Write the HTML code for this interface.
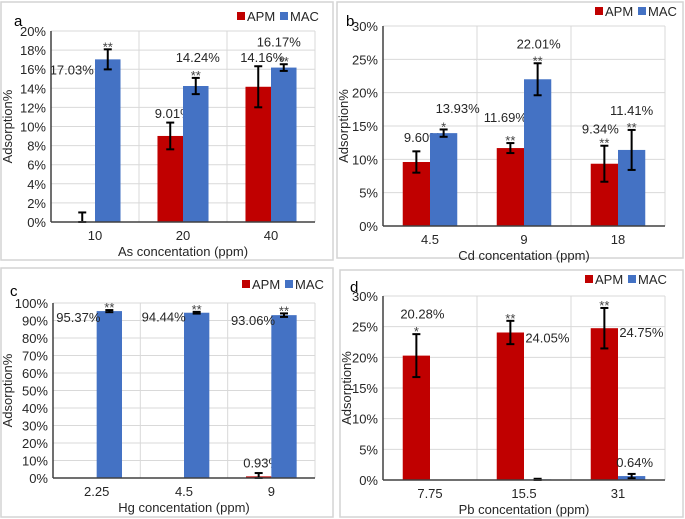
<!DOCTYPE html>
<html><head><meta charset="utf-8"><style>
body{margin:0;background:#fff;}
svg{display:block;font-family:"Liberation Sans",sans-serif;}
</style></head><body>
<svg id="chart" width="685" height="519" viewBox="0 0 685 519" xmlns="http://www.w3.org/2000/svg"></svg>
<script>
// Panel a (As)
const catsA=["10","20","40"];
const apmA=[0,9.01,14.16];
const macA=[17.03,14.24,16.17];
const apmErrA=[1,1.4,2.15];
const macErrA=[1.05,0.85,0.35];
const apmLblA=["","9.01%","14.16%"];
const macLblA=["17.03%","14.24%","16.17%"];
const apmSigA=["","",""];
const macSigA=["**","**","**"];
const ticksA=[0,2,4,6,8,10,12,14,16,18,20];
// Panel b (Cd)
const catsB=["4.5","9","18"];
const apmB=[9.60,11.69,9.34];
const macB=[13.93,22.01,11.41];
const apmErrB=[1.6,0.75,2.7];
const macErrB=[0.55,2.4,3];
const apmLblB=["9.60%","11.69%","9.34%"];
const macLblB=["13.93%","22.01%","11.41%"];
const apmSigB=["","**","**"];
const macSigB=["*","**","**"];
const ticksB=[0,5,10,15,20,25,30];
// Panel c (Hg)
const catsC=["2.25","4.5","9"];
const apmC=[0,0,0.93];
const macC=[95.37,94.44,93.06];
const apmErrC=[0,0,1.9];
const macErrC=[0.6,0.5,1];
const apmLblC=["","","0.93%"];
const macLblC=["95.37%","94.44%","93.06%"];
const apmSigC=["","",""];
const macSigC=["**","**","**"];
const ticksC=[0,10,20,30,40,50,60,70,80,90,100];
// Panel d (Pb)
const catsD=["7.75","15.5","31"];
const apmD=[20.28,24.05,24.75];
const macD=[0,0.1,0.64];
const apmErrD=[3.5,1.9,3.3];
const macErrD=[0,0.1,0.35];
const apmLblD=["20.28%","24.05%","24.75%"];
const macLblD=["","","0.64%"];
const apmSigD=["*","**","**"];
const macSigD=["","",""];
const ticksD=[0,5,10,15,20,25,30];

const NS="http://www.w3.org/2000/svg";
const svg=document.getElementById('chart');
function mk(tag,attrs,parent,text){const e=document.createElementNS(NS,tag);for(const k in attrs)e.setAttribute(k,attrs[k]);if(text!==undefined)e.textContent=text;(parent||svg).appendChild(e);return e;}

const panels=[
 {id:'a',box:[1,2,332,258],L:51,R:315,T:31,B:222,max:20,ticks:ticksA,cats:catsA,apm:apmA,mac:macA,ae:apmErrA,me:macErrA,al:apmLblA,ml:macLblA,as:apmSigA,ms:macSigA,
  aOff:[[0,0],[3,-18],[4,-25]],mOff:[[-36,15],[2,-24],[-5,-21]],xt:"As concentation (ppm)",legX:237,legY:12,letter:[14,26]},
 {id:'b',box:[337,2,346,256],L:383,R:665,T:26,B:226,max:30,ticks:ticksB,cats:catsB,apm:apmB,mac:macB,ae:apmErrB,me:macErrB,al:apmLblB,ml:macLblB,as:apmSigB,ms:macSigB,
  aOff:[[6,-20],[-5,-26],[-4,-30]],mOff:[[14,-20],[1,-31],[0,-35]],xt:"Cd concentation (ppm)",legX:595,legY:7,letter:[346,26]},
 {id:'c',box:[1,268,332,249],L:53,R:315,T:303,B:478,max:100,ticks:ticksC,cats:catsC,apm:apmC,mac:macC,ae:apmErrC,me:macErrC,al:apmLblC,ml:macLblC,as:apmSigC,ms:macSigC,
  aOff:[[0,0],[0,0],[3,-9]],mOff:[[-31,11],[-33,9],[-31,10]],xt:"Hg concentation (ppm)",legX:242,legY:280,letter:[10,296]},
 {id:'d',box:[340,270,343,247],L:383,R:665,T:296,B:480,max:30,ticks:ticksD,cats:catsD,apm:apmD,mac:macD,ae:apmErrD,me:macErrD,al:apmLblD,ml:macLblD,as:apmSigD,ms:macSigD,
  aOff:[[6,-37],[37,10],[37,9]],mOff:[[0,0],[0,0],[3,-9]],xt:"Pb concentation (ppm)",legX:585,legY:275,letter:[350,292]}
];

panels.forEach(p=>{
 const g=mk('g',{});
 
 
 const border=mk('rect',{x:p.box[0],y:p.box[1],width:p.box[2],height:p.box[3],fill:'#fff',stroke:'#d4d4d4','stroke-width':1.5},g);
 
 
 const y=v=>p.B-(v/p.max)*(p.B-p.T);
 const catW=(p.R-p.L)/p.cats.length;
 const cx=i=>p.L+catW*(i+0.5);
 const bw=catW*0.29;
 p.ticks.forEach(t=>{
  const ln=mk('line',{x1:p.L,x2:p.R,y1:y(t),y2:y(t),stroke:'#d9d9d9','stroke-width':1},g);
  
  
  const tl=mk('text',{x:p.L-5,y:y(t)+5,'text-anchor':'end','font-size':13,fill:'#262626'},g,t+'%');
  
  
 });
 for(let i=1;i<=p.cats.length;i++){
  const vl=mk('line',{x1:p.L+catW*i,x2:p.L+catW*i,y1:p.T,y2:p.B,stroke:'#d9d9d9','stroke-width':1},g);
  
  
 }
 p.cats.forEach((c,i)=>{
  const series=[['apm',p.apm[i],p.ae[i],p.al[i],p.as[i],p.aOff[i],'#c00000',cx(i)-bw/2],
                ['mac',p.mac[i],p.me[i],p.ml[i],p.ms[i],p.mOff[i],'#4472c4',cx(i)+bw/2]];
  series.forEach(s=>{
   const [nm,v,e,lbl,sig,off,col,bc]=s;
   const top=y(v);
   const r=mk('rect',{x:bc-bw/2,y:top,width:bw,height:Math.max(0,p.B-top),fill:col},g);
   
   
   if(e>0){
    const et=y(v+e),eb=y(Math.max(0,v-e));
    const eg=mk('g',{stroke:'#000','stroke-width':2},g);
    
    
    mk('line',{x1:bc,x2:bc,y1:et,y2:eb},eg);
    mk('line',{x1:bc-4,x2:bc+4,y1:et,y2:et},eg);
    mk('line',{x1:bc-4,x2:bc+4,y1:eb,y2:eb},eg);
    if(sig){
     const st=mk('text',{x:bc,y:et+2,'text-anchor':'middle','font-size':13,fill:'#404040'},g,sig);
     
     
    }
   }
   if(lbl){
    const t=mk('text',{x:bc+off[0],y:top+off[1],'text-anchor':'middle','font-size':13,fill:'#262626'},g,lbl);
    
    
   }
  });
  const cl=mk('text',{x:cx(i),y:p.B+18,'text-anchor':'middle','font-size':13,fill:'#262626'},g,c);
  
  
 });
 const ax=mk('line',{x1:p.L,x2:p.R,y1:p.B,y2:p.B,stroke:'#404040','stroke-width':1.5},g);
 
 
 const ay=mk('line',{x1:p.L,x2:p.L,y1:p.T,y2:p.B,stroke:'#404040','stroke-width':1.5},g);
 
 
 const xt=mk('text',{x:(p.L+p.R)/2,y:p.B+34,'text-anchor':'middle','font-size':13,fill:'#262626'},g,p.xt);
 
 
 const yx=p.box[0]+11, ym=(p.T+p.B)/2;
 const yt=mk('text',{x:yx,y:ym,'text-anchor':'middle','font-size':13,fill:'#262626',transform:`rotate(-90 ${yx} ${ym})`},g,'Adsorption%');
 
 
 const lt=mk('text',{x:p.letter[0],y:p.letter[1],'font-size':15,fill:'#000'},g,p.id);
 
 
 const lg=mk('g',{},g);
 
 
 const la=mk('rect',{x:p.legX,y:p.legY,width:8,height:8,fill:'#c00000'},lg);
 
 
 const lta=mk('text',{x:p.legX+10,y:p.legY+9,'font-size':13,fill:'#262626'},lg,'APM');
 
 
 const lm=mk('rect',{x:p.legX+43,y:p.legY,width:8,height:8,fill:'#4472c4'},lg);
 
 
 const ltm=mk('text',{x:p.legX+53,y:p.legY+9,'font-size':13,fill:'#262626'},lg,'MAC');
 
 
});
</script>
</body></html>
